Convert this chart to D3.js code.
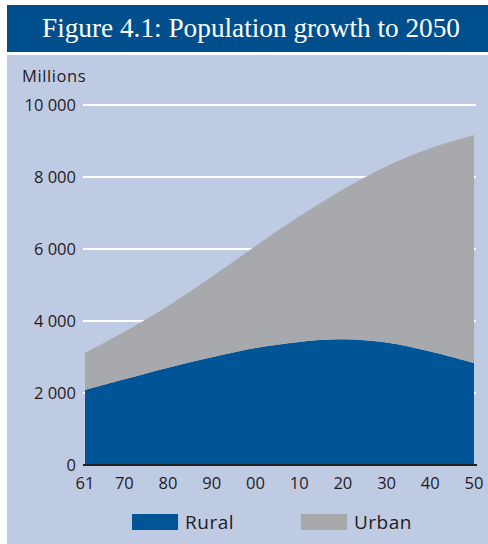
<!DOCTYPE html>
<html>
<head>
<meta charset="utf-8">
<script src="https://cdn.jsdelivr.net/npm/d3@7"></script>
<style>
  body { margin: 0; background: #fff; }
  svg text { fill: #1f1c1d; }
</style>
</head>
<body>
<svg id="chart" width="488" height="544"></svg>
<script>
// values (millions)
var years = [1961, 1970, 1980, 1990, 2000, 2010, 2020, 2030, 2040, 2050];
var rural = [2083, 2380, 2700, 2990, 3250, 3420, 3490, 3400, 3150, 2830];
var urban = [1027, 1320, 1720, 2240, 2830, 3480, 4160, 4900, 5650, 6340];
var yTicks = [0, 2000, 4000, 6000, 8000, 10000];
var xTicks = [1961, 1970, 1980, 1990, 2000, 2010, 2020, 2030, 2040, 2050];
var seriesNames = ["Rural", "Urban"];
var colors = { Rural: "#005597", Urban: "#a8a9ad" };

var svg = d3.select("#chart");
var margin = { top: 105, right: 14, bottom: 79, left: 85 };
var width = 488 - margin.left - margin.right;
var height = 544 - margin.top - margin.bottom;
var sans = "'Open Sans', sans-serif";

// header band + panel
svg.append("rect").attr("x", 7).attr("y", 5).attr("width", 481).attr("height", 47).attr("fill", "#004f8c");
svg.append("text")
    .attr("x", 42).attr("y", 37)
    .attr("textLength", 418)
    .attr("lengthAdjust", "spacingAndGlyphs")
    .style("font-family", "'Liberation Serif', serif")
    .style("font-size", "28px")
    .style("fill", "#fff")
    .text("Figure 4.1: Population growth to 2050");
svg.append("rect").attr("x", 7).attr("y", 55).attr("width", 481).attr("height", 489).attr("fill", "#bfcbe3");

var g = svg.append("g").attr("transform", "translate(" + margin.left + "," + margin.top + ")");

var x = d3.scaleLinear().domain([1961, 2050]).range([0, width]);
var y = d3.scaleLinear().domain([0, 10000]).range([height, 0]);

var fmt = function (d) { return d3.format(",")(d).replace(",", " "); };

// gridlines
g.selectAll(".grid")
    .data(yTicks.slice(1))
    .enter().append("line")
    .attr("class", "grid")
    .attr("x1", -2).attr("x2", width + 2)
    .attr("y1", function (d) { return y(d); })
    .attr("y2", function (d) { return y(d); })
    .attr("stroke", "#fff")
    .attr("stroke-width", 2);

// y labels
g.selectAll(".ylab")
    .data(yTicks)
    .enter().append("text")
    .attr("class", "ylab")
    .attr("x", -9)
    .attr("y", function (d) { return y(d); })
    .attr("dy", "0.36em")
    .attr("text-anchor", "end")
    .style("font-family", sans)
    .style("font-size", "16.5px")
    .text(fmt);

svg.append("text")
    .attr("x", 22).attr("y", 82)
    .style("font-family", sans)
    .style("font-size", "16.5px")
    .style("letter-spacing", "0.6px")
    .text("Millions");

// stacked areas
var table = years.map(function (yr, i) { return { year: yr, Rural: rural[i], Urban: urban[i] }; });
var stack = d3.stack().keys(seriesNames)(table);
var area = d3.area()
    .curve(d3.curveCatmullRom)
    .x(function (d) { return x(d.data.year); })
    .y0(function (d) { return y(d[0]); })
    .y1(function (d) { return y(d[1]); });

g.selectAll(".layer")
    .data(stack)
    .enter().append("path")
    .attr("class", "layer")
    .attr("d", area)
    .attr("fill", function (d) { return colors[d.key]; });

// x axis
g.append("line")
    .attr("x1", -2).attr("x2", width + 3)
    .attr("y1", height).attr("y2", height)
    .attr("stroke", "#231f20")
    .attr("stroke-width", 2);

g.selectAll(".xlab")
    .data(xTicks)
    .enter().append("text")
    .attr("class", "xlab")
    .attr("x", function (d) { return x(d); })
    .attr("y", height + 24)
    .attr("text-anchor", "middle")
    .style("font-family", sans)
    .style("font-size", "16.5px")
    .text(function (d) { return String(d).slice(2); });

// legend
var legend = svg.selectAll(".legend")
    .data(seriesNames)
    .enter().append("g")
    .attr("class", "legend")
    .attr("transform", function (d, i) { return "translate(" + (132 + i * 169) + ",514)"; });
legend.append("rect")
    .attr("width", 46).attr("height", 16)
    .attr("fill", function (d) { return colors[d]; });
legend.append("text")
    .attr("x", 53).attr("y", 15)
    .style("font-family", sans)
    .style("font-size", "19px")
    .style("letter-spacing", "0.5px")
    .text(function (d) { return d; });
</script>
</body>
</html>
